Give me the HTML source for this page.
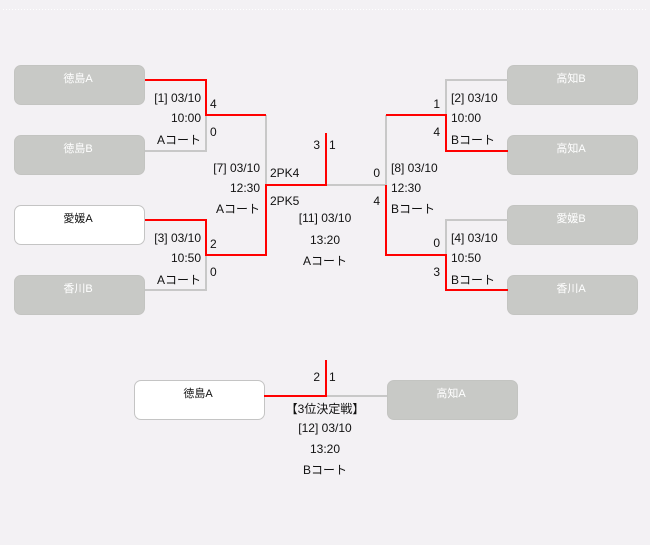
<!DOCTYPE html>
<html><head><meta charset="utf-8"><style>
html,body{margin:0;padding:0;background:#f3f1f4;}
.wrap{position:relative;width:650px;height:545px;overflow:hidden;background:#f3f1f4;}
.box{position:absolute;width:131px;height:40px;box-sizing:border-box;border-radius:7px;}
.g{background:#c8c9c6;border:1px solid #c3c4c1;}
.w{background:#ffffff;border:1px solid #c4c4c4;}
svg{position:absolute;left:0;top:0;}
text{font-family:"Liberation Sans","Noto Sans CJK JP",sans-serif;font-size:12px;fill:#111;}
.t{font-size:11px;text-anchor:middle;}
.wt{fill:#ffffff;}
.r{text-anchor:end;}
.c{text-anchor:middle;}
</style></head><body><div class="wrap">
<div class="box g" style="left:14px;top:65px;"></div>
<div class="box g" style="left:14px;top:135px;"></div>
<div class="box w" style="left:14px;top:205px;"></div>
<div class="box g" style="left:14px;top:275px;"></div>
<div class="box g" style="left:507px;top:65px;"></div>
<div class="box g" style="left:507px;top:135px;"></div>
<div class="box g" style="left:507px;top:205px;"></div>
<div class="box g" style="left:507px;top:275px;"></div>
<div class="box w" style="left:134px;top:380px;"></div>
<div class="box g" style="left:387px;top:380px;"></div>
<svg width="650" height="545" viewBox="0 0 650 545">
<line x1="3" y1="9.5" x2="647" y2="9.5" stroke="#ffffff" stroke-width="1" stroke-dasharray="1 2"/>
<g fill="none" stroke-width="2" stroke-linejoin="miter" stroke-linecap="butt">
<!-- left gray -->
<path d="M145,151 H206 V115" stroke="#c8c8c8"/>
<path d="M145,290 H206 V255" stroke="#c8c8c8"/>
<path d="M266,115 V185" stroke="#c8c8c8"/>
<!-- right gray -->
<path d="M508,80 H446 V115" stroke="#c8c8c8"/>
<path d="M508,220 H446 V255" stroke="#c8c8c8"/>
<path d="M326,185 H386 V115" stroke="#c8c8c8"/>
<path d="M326,396 H387" stroke="#c8c8c8"/>
<!-- red -->
<path d="M145,80 H206 V115 H266" stroke="#ff0000"/>
<path d="M145,220 H206 V255 H266 V185 H326 V133" stroke="#ff0000"/>
<path d="M386,185 V255 H446 V290 H508" stroke="#ff0000"/>
<path d="M386,115 H446 V151 H508" stroke="#ff0000"/>
<path d="M264,396 H326 V360" stroke="#ff0000"/>
</g>
<!-- team names -->
<text class="t wt" x="78" y="82">徳島A</text>
<text class="t wt" x="78" y="152">徳島B</text>
<text class="t" x="78" y="222">愛媛A</text>
<text class="t wt" x="78" y="292">香川B</text>
<text class="t wt" x="571" y="82">高知B</text>
<text class="t wt" x="571" y="152">高知A</text>
<text class="t wt" x="571" y="222">愛媛B</text>
<text class="t wt" x="571" y="292">香川A</text>
<text class="t" x="198" y="397">徳島A</text>
<text class="t wt" x="451" y="397">高知A</text>
<!-- match 1 -->
<text class="r" x="201" y="102">[1] 03/10</text>
<text class="r" x="201" y="122">10:00</text>
<text class="r" x="201" y="144">Aコート</text>
<text x="210" y="108">4</text>
<text x="210" y="136">0</text>
<!-- match 7 -->
<text class="r" x="260" y="172">[7] 03/10</text>
<text class="r" x="260" y="192">12:30</text>
<text class="r" x="260" y="213">Aコート</text>
<text x="270" y="177">2PK4</text>
<text x="270" y="205">2PK5</text>
<!-- final -->
<text class="r" x="320" y="149">3</text>
<text x="329" y="149">1</text>
<text class="r" x="380" y="177">0</text>
<text class="r" x="380" y="205">4</text>
<text class="c" x="325" y="222">[11] 03/10</text>
<text class="c" x="325" y="244">13:20</text>
<text class="c" x="325" y="265">Aコート</text>
<!-- match 3 -->
<text class="r" x="201" y="242">[3] 03/10</text>
<text class="r" x="201" y="262">10:50</text>
<text class="r" x="201" y="284">Aコート</text>
<text x="210" y="248">2</text>
<text x="210" y="276">0</text>
<!-- match 2 -->
<text class="r" x="440" y="108">1</text>
<text class="r" x="440" y="136">4</text>
<text x="451" y="102">[2] 03/10</text>
<text x="451" y="122">10:00</text>
<text x="451" y="144">Bコート</text>
<!-- match 8 -->
<text x="391" y="172">[8] 03/10</text>
<text x="391" y="192">12:30</text>
<text x="391" y="213">Bコート</text>
<!-- match 4 -->
<text class="r" x="440" y="247">0</text>
<text class="r" x="440" y="276">3</text>
<text x="451" y="242">[4] 03/10</text>
<text x="451" y="262">10:50</text>
<text x="451" y="284">Bコート</text>
<!-- third place -->
<text class="r" x="320" y="381">2</text>
<text x="329" y="381">1</text>
<text class="c" x="325" y="413">【3位決定戦】</text>
<text class="c" x="325" y="432">[12] 03/10</text>
<text class="c" x="325" y="453">13:20</text>
<text class="c" x="325" y="474">Bコート</text>
</svg>
</div></body></html>
